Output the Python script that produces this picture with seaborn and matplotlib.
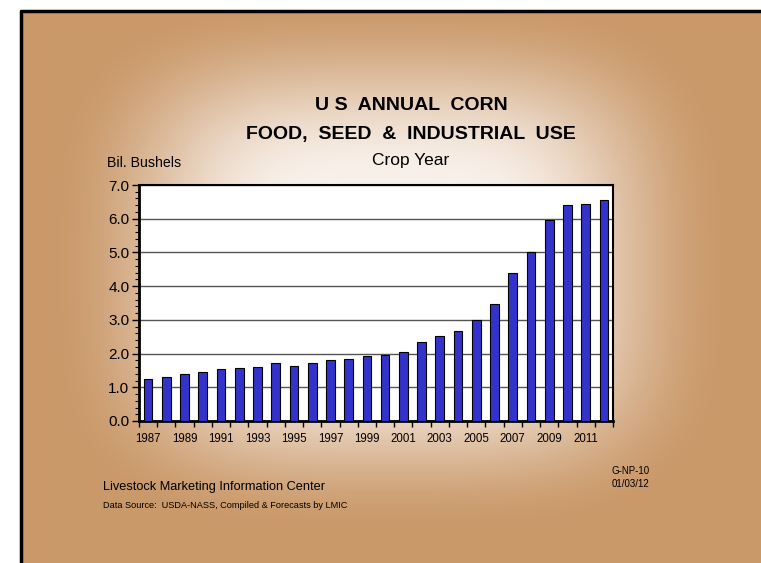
import numpy as np
import pandas as pd
import matplotlib
matplotlib.use("Agg")
import matplotlib.pyplot as plt
from matplotlib.patches import Rectangle
from matplotlib.ticker import MultipleLocator
import seaborn as sns

years = [str(y) for y in range(1987, 2013)]
usage = [1.25, 1.31, 1.38, 1.44, 1.54, 1.57, 1.61, 1.72, 1.64, 1.72, 1.80, 1.85,
         1.93, 1.96, 2.06, 2.34, 2.53, 2.68, 2.99, 3.48, 4.38, 5.02, 5.95, 6.42,
         6.44, 6.55]
yticks = [0, 1, 2, 3, 4, 5, 6, 7]

sns.set_style("ticks")
plt.rcParams['font.family'] = ['Liberation Sans', 'DejaVu Sans']
plt.rcParams['text.color'] = 'black'
plt.rcParams['xtick.color'] = 'black'
plt.rcParams['ytick.color'] = 'black'
plt.rcParams['axes.labelcolor'] = 'black'

W, H = 761, 563
fig = plt.figure(figsize=(W / 100, H / 100), dpi=100)
fig.patch.set_facecolor('white')

# background glow
bg = fig.add_axes([0, 0, 1, 1])
bg.set_xlim(0, W)
bg.set_ylim(H, 0)
bg.axis('off')
xx, yy = np.meshgrid(np.arange(W) + 0.5, np.arange(H) + 0.5)
cx, cy, ax_, ay_ = 390, 265, 320, 250
p = 3.5
d = ((np.abs(xx - cx) / ax_) ** p + (np.abs(yy - cy) / ay_) ** p) ** (1 / p)
t = np.clip((d - 0.35) / 0.72, 0, 1)
t = t * t * (3 - 2 * t)
light = np.array([248, 240, 233]) / 255
tan = np.array([202, 153, 106]) / 255
img = light[None, None, :] * (1 - t[..., None]) + tan[None, None, :] * t[..., None]
bg.imshow(img, extent=[0, W, H, 0], zorder=0, aspect='auto')
# white margin + border
bg.add_patch(Rectangle((0, 0), W, 10, facecolor='white', edgecolor='none', zorder=1))
bg.add_patch(Rectangle((0, 0), 20, H, facecolor='white', edgecolor='none', zorder=1))
bg.plot([20.5, 20.5, W], [H, 10.5, 10.5], color='black', lw=2.5, zorder=2)

# chart
ax = fig.add_axes([139 / W, 1 - 421 / H, (613 - 139) / W, (421 - 185) / H])
df = pd.DataFrame({'year': years, 'usage': usage})
sns.barplot(data=df, x='year', y='usage', ax=ax, color='#3333CC', saturation=1,
            edgecolor='black', linewidth=0.8, width=0.48, zorder=3)
ax.set_facecolor('white')
ax.set_xlim(-0.5, len(years) - 0.5)
ax.set_ylim(0, 7)
ax.set_xlabel('')
ax.set_ylabel('')
ax.set_yticks(yticks)
ax.set_yticklabels([f"{v:.1f}" for v in yticks], fontsize=11)
ax.yaxis.set_minor_locator(MultipleLocator(0.2))
ax.tick_params(axis='y', which='major', direction='out', length=5, width=1, pad=2, colors='black')
ax.tick_params(axis='y', which='minor', direction='out', length=3, width=0.8, colors='black')
ax.set_xticks(np.arange(-0.5, len(years), 1))
ax.set_xticklabels([])
ax.set_xticks(np.arange(0, len(years), 2), minor=True)
ax.set_xticklabels(years[::2], minor=True, fontsize=8.3)
ax.tick_params(axis='x', which='major', direction='out', length=4, width=1, colors='black')
ax.tick_params(axis='x', which='minor', length=0, pad=9, colors='black')
ax.yaxis.grid(True, which='major', color='#555555', lw=1)
ax.set_axisbelow(True)
for s in ax.spines.values():
    s.set_visible(True)
    s.set_color('black')
    s.set_linewidth(1.5)
ax.spines['left'].set_linewidth(2)
ax.spines['bottom'].set_linewidth(2)

# texts
def ft(x, y, s, **kw):
    fig.text(x / W, 1 - y / H, s, color='black', **kw)

ft(411, 106, "U S  ANNUAL  CORN", ha='center', va='center', fontsize=14, fontweight='bold')
ft(411, 134, "FOOD,  SEED  &  INDUSTRIAL  USE", ha='center', va='center', fontsize=14, fontweight='bold')
ft(411, 160, "Crop Year", ha='center', va='center', fontsize=12.5)
ft(107, 163, "Bil. Bushels", ha='left', va='center', fontsize=10.2)
ft(103, 487, "Livestock Marketing Information Center", ha='left', va='center', fontsize=9.2)
ft(103, 506, "Data Source:  USDA-NASS, Compiled & Forecasts by LMIC", ha='left', va='center', fontsize=6.6)
ft(612, 471, "G-NP-10", ha='left', va='center', fontsize=7)
ft(612, 484, "01/03/12", ha='left', va='center', fontsize=7)

fig.savefig('out.png', dpi=100, facecolor=fig.get_facecolor())
